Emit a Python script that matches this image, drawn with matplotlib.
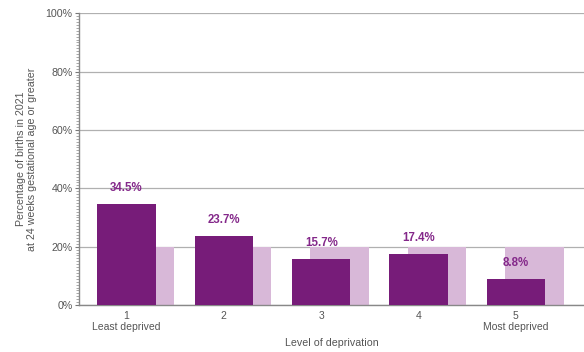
import matplotlib
matplotlib.use("Agg")
import matplotlib.pyplot as plt
from matplotlib.ticker import MultipleLocator, FuncFormatter

plt.rcParams['font.family'] = ['Liberation Sans', 'DejaVu Sans']

# data
levels = [1, 2, 3, 4, 5]
tick_labels = ["1\nLeast deprived", "2", "3", "4", "5\nMost deprived"]
pct_births = [34.5, 23.7, 15.7, 17.4, 8.8]
reference = [20, 20, 20, 20, 20]

dark = '#771c79'
light = '#d8b8d8'
txt = '#555555'

fig = plt.figure(figsize=(5.84, 3.52), dpi=100)
ax = fig.add_axes([0.135, 0.1335, 0.865, 0.8287])

bw = 0.6
off = 0.19
# light reference bars sit behind, shifted right
ax.bar([x + off for x in levels], reference, width=bw, color=light, zorder=2)
ax.bar(levels, pct_births, width=bw, color=dark, zorder=3)

for x, v in zip(levels, pct_births):
    ax.text(x, v + 3.5, f"{v}%", ha='center', va='bottom', color='#84288a',
            fontsize=8.3, fontweight='bold', zorder=4)

ax.set_xlim(0.511, 5.7)
ax.set_ylim(0, 100)
ax.yaxis.set_major_locator(MultipleLocator(20))
ax.yaxis.set_minor_locator(MultipleLocator(1))
ax.yaxis.set_major_formatter(FuncFormatter(lambda v, p: f"{v:.0f}%"))
ax.grid(axis='y', color='#b0b0b0', linewidth=0.9, zorder=1)
ax.set_axisbelow(True)

ax.set_xticks(levels)
ax.set_xticklabels(tick_labels)
ax.tick_params(axis='x', length=0, colors=txt, labelsize=7.5, pad=4)
ax.tick_params(axis='y', which='major', length=3, color='#777777', colors=txt,
               labelsize=7.7, pad=1.5)
ax.tick_params(axis='y', which='minor', length=2, color='#999999', width=0.6)

for s in ['top', 'right']:
    ax.spines[s].set_visible(False)
ax.spines['left'].set_color('#888888')
ax.spines['bottom'].set_color('#888888')
ax.spines['left'].set_linewidth(1.0)
ax.spines['bottom'].set_linewidth(1.0)

ax.set_ylabel("Percentage of births in 2021\nat 24 weeks gestational age or greater",
              color=txt, fontsize=7.7, labelpad=6)
ax.set_xlabel("Level of deprivation", color=txt, fontsize=7.7, labelpad=4)

fig.savefig("out.png", dpi=100)
